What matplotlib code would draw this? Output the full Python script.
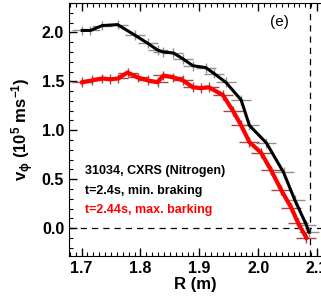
import matplotlib
matplotlib.use('Agg')
from matplotlib import pyplot as plt
from matplotlib.ticker import MultipleLocator

# radial profiles of toroidal rotation
R_min = [1.701, 1.715, 1.735, 1.761, 1.791, 1.812, 1.829, 1.839, 1.856, 1.872,
         1.889, 1.911, 1.925, 1.945, 1.971, 1.985, 2.014, 2.043, 2.062, 2.082, 2.086]
v_min = [2.02, 2.02, 2.07, 2.08, 1.97, 1.89, 1.82, 1.80, 1.79, 1.73,
         1.66, 1.64, 1.58, 1.49, 1.31, 1.05, 0.87, 0.57, 0.29, 0.03, -0.04]

R_max = [1.701, 1.718, 1.735, 1.749, 1.762, 1.778, 1.795, 1.812, 1.829, 1.839,
         1.856, 1.872, 1.889, 1.903, 1.916, 1.940, 1.957, 1.971, 1.985, 2.005,
         2.022, 2.039, 2.056, 2.068, 2.082]
v_max = [1.49, 1.51, 1.53, 1.52, 1.53, 1.59, 1.54, 1.51, 1.49, 1.56,
         1.54, 1.51, 1.44, 1.43, 1.44, 1.36, 1.20, 1.05, 0.88, 0.77,
         0.59, 0.39, 0.21, 0.05, -0.10]

R_err = 0.017
v_err = 0.05
R_sep = 2.088

plt.rcParams['font.family'] = ['Liberation Sans', 'DejaVu Sans']
plt.rcParams['font.weight'] = 'bold'
plt.rcParams['mathtext.fontset'] = 'custom'
plt.rcParams['mathtext.rm'] = 'Liberation Sans:bold'
plt.rcParams['mathtext.it'] = 'Liberation Sans:bold'
plt.rcParams['mathtext.bf'] = 'Liberation Sans:bold'

fig = plt.figure(figsize=(3.21, 3.06), dpi=100)
ax = fig.add_axes([0.215, 0.163, 0.79, 0.827])

ax.errorbar(R_min, v_min, xerr=R_err, yerr=v_err, fmt='none',
            ecolor='#909090', elinewidth=1.0, zorder=2)
ax.errorbar(R_max, v_max, xerr=R_err, yerr=v_err, fmt='none',
            ecolor='#a04848', elinewidth=1.0, zorder=2)
ax.plot(R_min, v_min, color='black', lw=2.2, zorder=3)
ax.plot(R_max, v_max, color='red', lw=3.0, zorder=3)

ax.axhline(0, color='black', lw=0.9, ls=(0, (5, 4)), zorder=1)
ax.axvline(R_sep, color='black', lw=0.9, ls=(0, (5, 4)), zorder=1)

ax.set_xlim(1.6786, 2.1094)
ax.set_ylim(-0.286, 2.30)
ax.xaxis.set_major_locator(MultipleLocator(0.1))
ax.xaxis.set_minor_locator(MultipleLocator(0.01))
ax.yaxis.set_major_locator(MultipleLocator(0.5))
ax.yaxis.set_minor_locator(MultipleLocator(0.1))
ax.tick_params(which='both', direction='in', top=True, right=False, labelsize=11.5)
ax.tick_params(which='major', length=6, width=1)
ax.tick_params(which='minor', length=3, width=0.8)
ax.spines['right'].set_visible(False)
for lbl in ax.get_xticklabels() + ax.get_yticklabels():
    lbl.set_fontweight('bold')

ax.set_xlabel('R (m)', fontsize=12, fontweight='bold', labelpad=1)
ax.set_ylabel(r'v$_{\phi}$ (10$^{5}$ ms$^{-1}$)', fontsize=12, fontweight='bold', labelpad=4)

ax.text(0.793, 0.925, '(e)', transform=ax.transAxes, fontsize=11,
        fontweight='normal', va='center')
ax.text(0.065, 0.324, '31034, CXRS (Nitrogen)', transform=ax.transAxes,
        fontsize=9, fontweight='bold', color='black')
ax.text(0.065, 0.245, 't=2.4s, min. braking', transform=ax.transAxes,
        fontsize=9, fontweight='bold', color='black')
ax.text(0.065, 0.170, 't=2.44s, max. barking', transform=ax.transAxes,
        fontsize=9, fontweight='bold', color='red')

fig.savefig('out.png', dpi=100)
